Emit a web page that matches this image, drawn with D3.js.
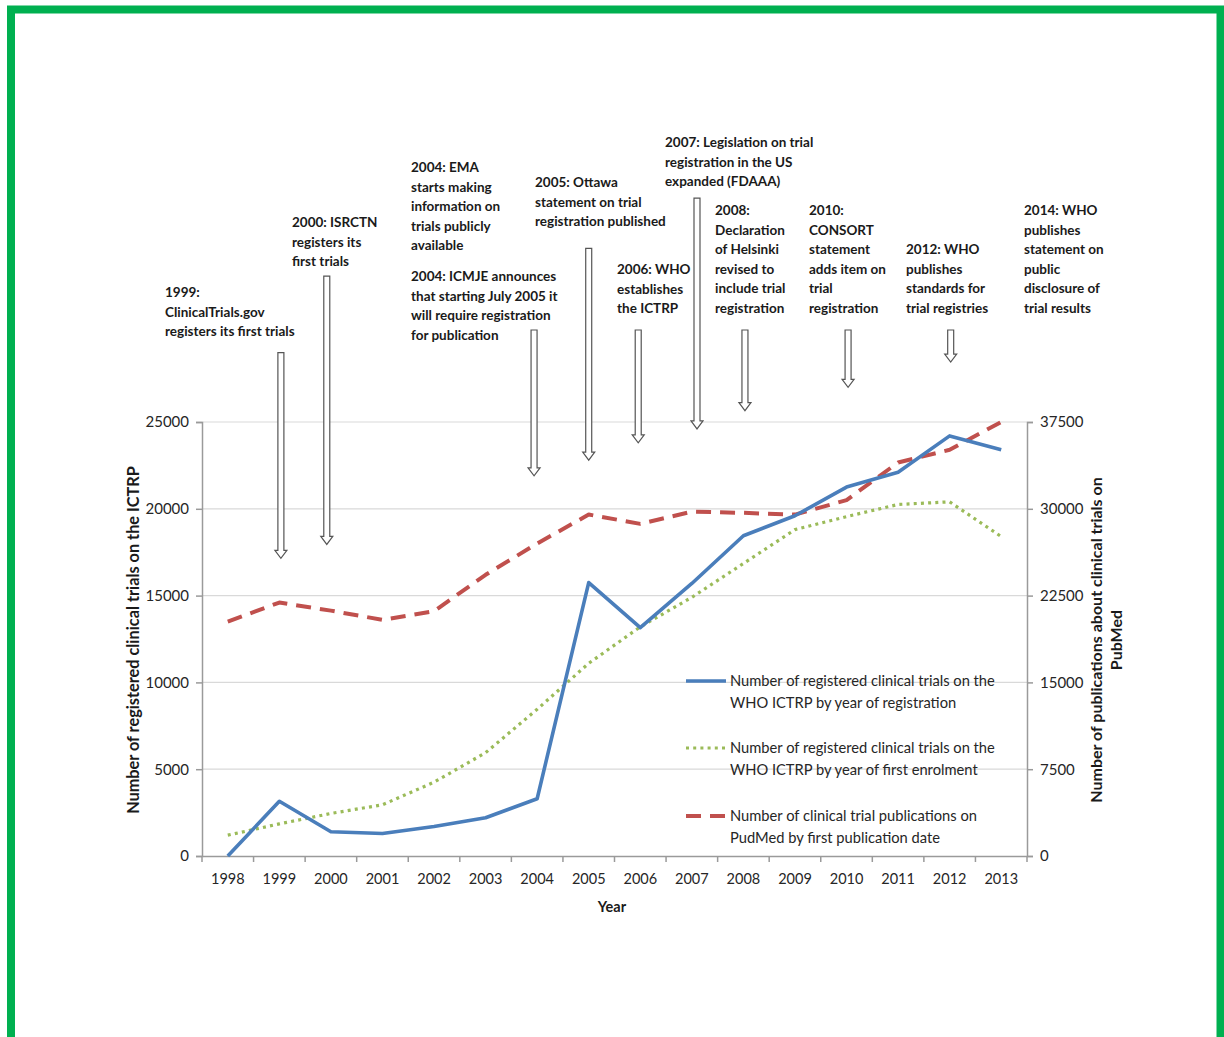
<!DOCTYPE html>
<html><head><meta charset="utf-8">
<script src="https://cdn.jsdelivr.net/npm/d3@7"></script>
<style>
html,body{margin:0;padding:0;background:#fff;}
svg{display:block;font-family:Lato,"Open Sans",sans-serif;}
</style></head>
<body>
<svg id="chart" width="1224" height="1037"></svg>
<script>
// ---------- data ----------
const years = [1998,1999,2000,2001,2002,2003,2004,2005,2006,2007,2008,2009,2010,2011,2012,2013];
const byRegistration = [0,3150,1400,1300,1700,2200,3300,15750,13150,15700,18450,19600,21250,22100,24200,23400];
const byEnrolment = [1200,1850,2450,2950,4250,5950,8450,11100,13200,14900,16850,18800,19550,20250,20400,18400];
const publications = [20250,21900,21200,20400,21150,24300,27000,29500,28700,29750,29650,29500,30750,34000,35100,37500];
const leftTicks = [0,5000,10000,15000,20000,25000];
const rightTicks = [0,7500,15000,22500,30000,37500];
const legendLabels = [
  ["Number of registered clinical trials on the","WHO ICTRP by year of registration"],
  ["Number of registered clinical trials on the","WHO ICTRP by year of first enrolment"],
  ["Number of clinical trial publications on","PudMed by first publication date"]
];
// events: arrow year position, arrow top/tip in left-axis units
const eventYears = [1999.03,1999.92,2003.94,2005.0,2005.96,2007.1,2008.03,2010.03,2012.02];
const arrowTop =   [29000,33400,30300,35000,30300,37900,30300,30300,30300];
const arrowTip =   [17150,17950,21900,22800,23800,24600,25650,27000,28450];
const eventTexts = [
  ["1999:","ClinicalTrials.gov","registers its first trials"],
  ["2000: ISRCTN","registers its","first trials"],
  ["2004: EMA","starts making","information on","trials publicly","available"],
  ["2004: ICMJE announces","that starting July 2005 it","will require registration","for publication"],
  ["2005: Ottawa","statement on trial","registration published"],
  ["2006: WHO","establishes","the ICTRP"],
  ["2007: Legislation on trial","registration in the US","expanded (FDAAA)"],
  ["2008:","Declaration","of Helsinki","revised to","include trial","registration"],
  ["2010:","CONSORT","statement","adds item on","trial","registration"],
  ["2012: WHO","publishes","standards for","trial registries"],
  ["2014: WHO","publishes","statement on","public","disclosure of","trial results"]
];
// ---------- layout ----------
const textPos = [[165,297],[292,227],[411,172],[411,281],[535,187],[617,274],[665,147],[715,215],[809,215],[906,254],[1024,215]];
const L = 202, R = 1027, T = 422, B = 856;
const svg = d3.select("#chart");

// green frame
svg.append("rect").attr("x",11).attr("y",9.5).attr("width",1209.5).attr("height",1040)
  .attr("fill","none").attr("stroke","#00b050").attr("stroke-width",8);

const x = d3.scaleBand().domain(years).range([L,R]);
const xl = d3.scaleLinear().domain([1997.5,2013.5]).range([L,R]);
const yL = d3.scaleLinear().domain([0,25000]).range([B,T]);
const yR = d3.scaleLinear().domain([0,37500]).range([B,T]);
const cx = d => x(d)+x.bandwidth()/2;

// gridlines
svg.append("g").selectAll("line").data(leftTicks.slice(1)).join("line")
  .attr("x1",L).attr("x2",R).attr("y1",d=>yL(d)).attr("y2",d=>yL(d))
  .attr("stroke","#d9d9d9").attr("stroke-width",1.2);

// axes
const axisColor = "#9a9a9a";
const tickFont = 15;
const gx = svg.append("g").attr("transform",`translate(0,${B})`)
  .call(d3.axisBottom(x).tickSize(0).tickPadding(18));
gx.select(".domain").attr("stroke",axisColor).attr("stroke-width",1.5);
gx.selectAll("text").attr("font-size",14.5).attr("fill","#262626").attr("font-family","Lato");
// boundary ticks
svg.append("g").selectAll("line").data(d3.range(years.length+1)).join("line")
  .attr("x1",i=>L+i*x.bandwidth()).attr("x2",i=>L+i*x.bandwidth())
  .attr("y1",B).attr("y2",B+6).attr("stroke",axisColor).attr("stroke-width",1.5);

const gl = svg.append("g").attr("transform",`translate(${L},0)`)
  .call(d3.axisLeft(yL).tickValues(leftTicks).tickFormat(d3.format("d")).tickSize(6).tickPadding(7));
gl.select(".domain").attr("stroke",axisColor).attr("stroke-width",1.5);
gl.selectAll(".tick line").attr("stroke",axisColor).attr("stroke-width",1.5);
gl.selectAll("text").attr("font-size",tickFont).attr("fill","#262626").attr("font-family","Lato");

const gr = svg.append("g").attr("transform",`translate(${R},0)`)
  .call(d3.axisRight(yR).tickValues(rightTicks).tickFormat(d3.format("d")).tickSize(6).tickPadding(7));
gr.select(".domain").attr("stroke",axisColor).attr("stroke-width",1.5);
gr.selectAll(".tick line").attr("stroke",axisColor).attr("stroke-width",1.5);
gr.selectAll("text").attr("font-size",tickFont).attr("fill","#262626").attr("font-family","Lato");

// axis titles
svg.append("text").attr("x",612).attr("y",912).attr("text-anchor","middle")
  .attr("font-size",14.5).attr("font-weight","bold").attr("fill","#1a1a1a").text("Year");
svg.append("text").attr("transform",`translate(139,640) rotate(-90)`).attr("text-anchor","middle")
  .attr("font-size",16.3).attr("font-weight","bold").attr("fill","#1a1a1a")
  .text("Number of registered clinical trials on the ICTRP");
const rt = svg.append("text").attr("transform",`translate(1102,640) rotate(-90)`).attr("text-anchor","middle")
  .attr("font-size",16).attr("font-weight","bold").attr("fill","#1a1a1a");
rt.append("tspan").attr("x",0).attr("dy",0).text("Number of publications about clinical trials on");
rt.append("tspan").attr("x",0).attr("dy",20).text("PubMed");

// series
const styles = [
  {color:"#4a7ebb", width:3.6, dash:null, cap:"butt"},
  {color:"#9bbb59", width:3.2, dash:"3 4.2", cap:"butt"},
  {color:"#c0504d", width:4, dash:"15 9", cap:"butt"}
];
const series = [
  {vals:byRegistration, y:yL},
  {vals:byEnrolment, y:yL},
  {vals:publications, y:yR}
];
[2,1,0].forEach(i=>{
  const s = series[i], st = styles[i];
  const line = d3.line().x((d,j)=>cx(years[j])).y(d=>s.y(d));
  svg.append("path").datum(s.vals).attr("d",line).attr("fill","none")
    .attr("stroke",st.color).attr("stroke-width",st.width)
    .attr("stroke-dasharray",st.dash).attr("stroke-linecap",st.cap).attr("stroke-linejoin","round");
});

// legend
const legY = [681,748,816];
legendLabels.forEach((lab,i)=>{
  const st = styles[i];
  svg.append("line").attr("x1",686).attr("x2",726).attr("y1",legY[i]).attr("y2",legY[i])
    .attr("stroke",st.color).attr("stroke-width",st.width).attr("stroke-dasharray",st.dash);
  const t = svg.append("text").attr("font-size",14.7).attr("fill","#262626");
  lab.forEach((ln,k)=>t.append("tspan").attr("x",730).attr("y",legY[i]+5+k*21.5).text(ln));
});

// arrows
const sw = 3, hw = 6, hh = 8;
eventYears.forEach((ey,i)=>{
  const ax = xl(ey), top = yL(arrowTop[i]), tip = yL(arrowTip[i]);
  const p = [[ax-sw,top],[ax+sw,top],[ax+sw,tip-hh],[ax+hw,tip-hh],[ax,tip],[ax-hw,tip-hh],[ax-sw,tip-hh]];
  svg.append("path").attr("d","M"+p.map(q=>q.join(",")).join("L")+"Z")
    .attr("fill","#fff").attr("stroke","#555").attr("stroke-width",1.2);
});

// annotation texts
eventTexts.forEach((lines,i)=>{
  const t = svg.append("text").attr("font-size",13.5).attr("font-weight","bold").attr("fill","#1a1a1a");
  lines.forEach((ln,k)=>t.append("tspan").attr("x",textPos[i][0]).attr("y",textPos[i][1]+k*19.6).text(ln));
});
</script>
</body></html>
